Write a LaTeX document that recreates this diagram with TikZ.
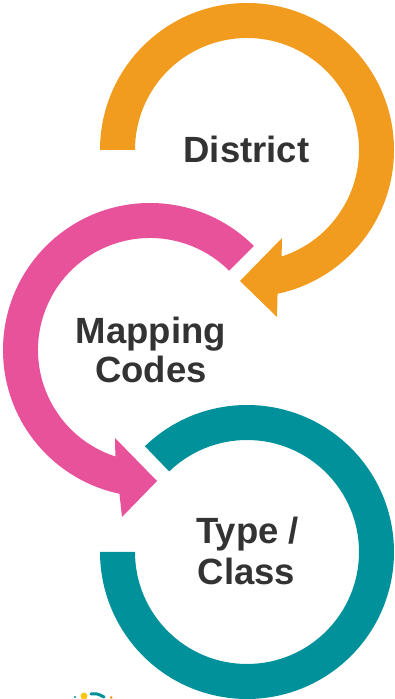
\documentclass[tikz,border=0pt]{standalone}
\usepackage{fontspec}
\setmainfont{Liberation Sans}
\usetikzlibrary{calc}
\definecolor{corange}{RGB}{242,156,31}
\definecolor{cpink}{RGB}{231,82,155}
\definecolor{cteal}{RGB}{0,145,154}
\definecolor{ctext}{RGB}{51,51,51}
\definecolor{cyellow}{RGB}{250,200,20}
\begin{document}
\begin{tikzpicture}[x=1pt,y=1pt,
  lbl/.style={inner sep=0pt,anchor=base,text=ctext,font=\fontsize{36.5}{40}\selectfont\bfseries}]
\useasboundingbox (0,0) rectangle (394,699);
\clip (0,0) rectangle (394,699);
% centres
\coordinate (O) at (247,549);
\coordinate (P) at (150,349);
\coordinate (T) at (247,147);
% orange arrow
\fill[corange] ($(O)+(180:147)$) arc[start angle=180,end angle=-78,radius=147]
  -- (277,382) -- (240,418) -- (282,461)
  -- ($(O)+(-72:112)$) arc[start angle=-72,end angle=180,radius=112] -- cycle;
% pink arrow
\fill[cpink] ($(P)+(45:147)$) arc[start angle=45,end angle=258,radius=147]
  -- (122,182) -- (157,218) -- (115,261)
  -- ($(P)+(252:112)$) arc[start angle=252,end angle=45,radius=112] -- cycle;
% teal ring
\fill[cteal] ($(T)+(134:147)$) arc[start angle=134,end angle=-180,radius=147]
  -- ($(T)+(180:112)$) arc[start angle=-180,end angle=134,radius=112] -- cycle;
% labels
\node[lbl] (district) at (246.5,536) {District};
\node[lbl] (mapping) at (151,355) {Mapping};
\node[lbl] (codes) at (151,316) {Codes};
\node[lbl] (type) at (247.5,155) {Type /};
\node[lbl] (class) at (246.5,114) {Class};
% partial logo at bottom
\fill[cyellow] (84,3) circle (3.5);
\draw[cteal,line width=3,line cap=round] (91,5) .. controls (97,5.5) .. (104,2);
\fill[cteal] (75,2) circle (1.2);
\fill[corange] (111,1.5) circle (1.5);
\end{tikzpicture}
\end{document}
